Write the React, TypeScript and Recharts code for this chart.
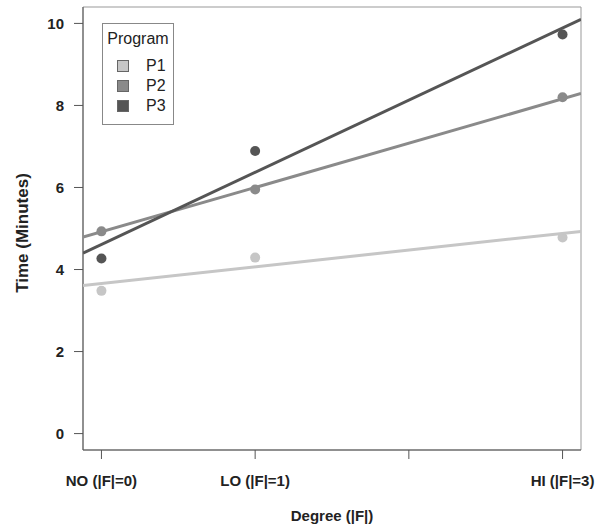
import React from "react";
import { ScatterChart, Scatter, XAxis, YAxis, ReferenceArea, Label } from "recharts";

const xTicks = [0, 1, 2, 3];
const xTickLabels = ["NO (|F|=0)", "LO (|F|=1)", "", "HI (|F|=3)"];
const yTicks = [0, 2, 4, 6, 8, 10];

const programs = ["P1", "P2", "P3"];
const colors = ["#c6c6c6", "#8a8a8a", "#555555"];

const degrees = [0, 1, 3];
const p1Times = [3.48, 4.29, 4.78];
const p2Times = [4.93, 5.95, 8.2];
const p3Times = [4.27, 6.89, 9.73];

// fitted lines, read at the left and right edge of the plot
const fitEnds = [-0.12, 3.12];
const p1Fit = [3.61, 4.93];
const p2Fit = [4.79, 8.29];
const p3Fit = [4.4, 10.1];

const toPoints = (xs: number[], ys: number[]) => xs.map((x, i) => ({ x, y: ys[i] }));

const points = [p1Times, p2Times, p3Times].map((t) => toPoints(degrees, t));
const fits = [p1Fit, p2Fit, p3Fit].map((f) => toPoints(fitEnds, f));

const font = "'Liberation Sans', Arial, Helvetica, sans-serif";

function ProgramLegend() {
  return (
    <div
      style={{
        position: "absolute",
        left: 102,
        top: 23,
        width: 72,
        height: 102,
        border: "1px solid #888",
        background: "#fff",
        fontFamily: font,
        fontSize: 16,
        color: "#222",
        boxSizing: "border-box",
      }}
    >
      <div style={{ position: "absolute", top: 6, left: 0, width: "100%", textAlign: "center" }}>Program</div>
      {programs.map((p, i) => (
        <div key={p} style={{ position: "absolute", top: 33 + i * 20, left: 14, display: "flex", alignItems: "center" }}>
          <span
            style={{
              display: "inline-block",
              width: 10,
              height: 10,
              background: colors[i],
              border: "1px solid #666",
              marginRight: 17,
            }}
          />
          <span>{p}</span>
        </div>
      ))}
    </div>
  );
}

export default function App() {
  return (
    <div style={{ position: "absolute", left: 0, top: 0, width: 596, height: 529, background: "#fff" }}>
      <ScatterChart width={596} height={529} margin={{ top: 7, right: 15, bottom: 0, left: 0 }}>
        <XAxis
          type="number"
          dataKey="x"
          domain={[-0.12, 3.12]}
          allowDataOverflow
          ticks={xTicks}
          tickFormatter={(v: number) => xTickLabels[xTicks.indexOf(v)] ?? ""}
          height={79}
          tickSize={9}
          tickMargin={16}
          stroke="#555"
          tick={{ fill: "#222", fontSize: 15, fontWeight: "bold", fontFamily: font }}
        >
          <Label
            content={() => (
              <text x={332} y={521} textAnchor="middle" fontFamily={font} fontSize={15} fontWeight="bold" fill="#222">
                Degree (|F|)
              </text>
            )}
          />
        </XAxis>
        <YAxis
          type="number"
          dataKey="y"
          domain={[-0.4, 10.4]}
          allowDataOverflow
          ticks={yTicks}
          width={83}
          tickSize={9}
          tickMargin={10}
          stroke="#555"
          tick={{ fill: "#222", fontSize: 15, fontWeight: "bold", fontFamily: font }}
        >
          <Label
            content={() => (
              <text
                x={28}
                y={233}
                textAnchor="middle"
                transform="rotate(-90 28 233)"
                fontFamily={font}
                fontSize={17}
                fontWeight="bold"
                fill="#222"
              >
                Time (Minutes)
              </text>
            )}
          />
        </YAxis>
        <ReferenceArea x1={-0.12} x2={3.12} y1={-0.4} y2={10.4} fill="none" stroke="#999" strokeWidth={1} />
        {points.map((d, i) => (
          <Scatter
            key={`pt-${i}`}
            name={programs[i]}
            data={d}
            fill={colors[i]}
            isAnimationActive={false}
            shape={(props: any) => <circle cx={props.cx} cy={props.cy} r={5} fill={colors[i]} />}
          />
        ))}
        {fits.map((d, i) => (
          <Scatter
            key={`fit-${i}`}
            data={d}
            line={{ stroke: colors[i], strokeWidth: 3 }}
            legendType="none"
            isAnimationActive={false}
            shape={() => <g />}
          />
        ))}
      </ScatterChart>
      <ProgramLegend />
    </div>
  );
}
